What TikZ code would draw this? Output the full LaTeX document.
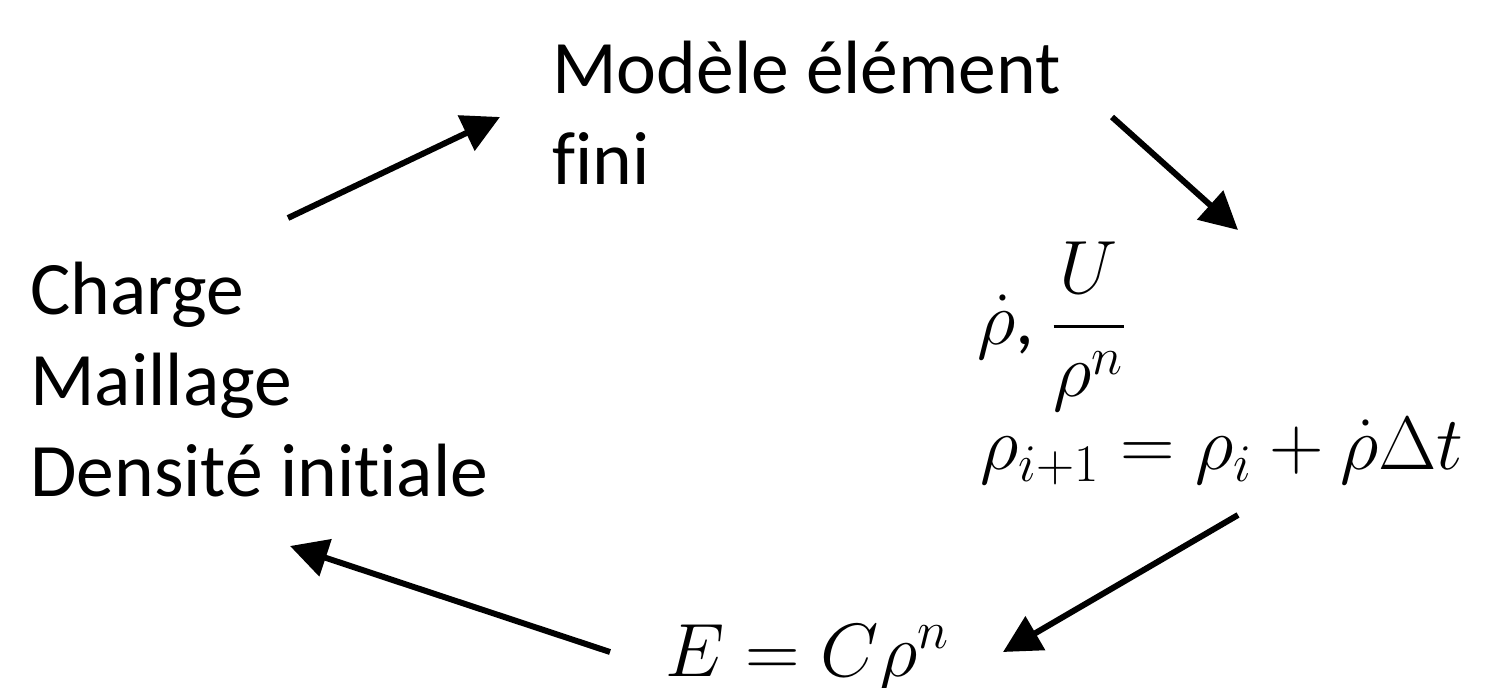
\documentclass[tikz,border=0pt]{standalone}
\usepackage{fix-cm}
\usepackage{amsmath,amssymb}
\usepackage{fontspec}
\setmainfont{Carlito}[Ligatures=NoCommon, RawFeature={-clig}]
\usetikzlibrary{arrows.meta}

\begin{document}
\begin{tikzpicture}[x=0.02cm, y=-0.02cm, >={Triangle[length=0.75cm, width=0.76cm]},
	every node/.style={font=\fontsize{43pt}{51.8pt}\selectfont, inner sep=0pt},
	txt/.style={anchor=base west, align=left},
	flow/.style={->, line width=3.4pt}]
	\useasboundingbox (0,0) rectangle (1506,688);
	\node[txt] (charge) at (30,497) {Charge\\Maillage\\Densité initiale};
	\node[txt] (modele) at (552,185) {Modèle élément\\fini};
	\node[txt] (rate) at (977,345) {$\dot{\rho}$, $\dfrac{U}{\rho^{n}}$};
	\node[txt] (update) at (980,470) {$\rho_{i+1} = \rho_{i} + \dot{\rho}\Delta t$};
	\node[txt] (young) at (665,676) {$E = C\rho^{n}$};
	% arrow ends
	\coordinate (c1) at (288,218);
	\coordinate (m1) at (500,117);
	\coordinate (m2) at (1112,117);
	\coordinate (r1) at (1238,230);
	\coordinate (r2) at (1238,515);
	\coordinate (y1) at (1003,652);
	\coordinate (y2) at (610,652);
	\coordinate (c2) at (290,546);
	\draw[flow] (c1) -- (m1);
	\draw[flow] (m2) -- (r1);
	\draw[flow] (r2) -- (y1);
	\draw[flow] (y2) -- (c2);
\end{tikzpicture}
\end{document}
